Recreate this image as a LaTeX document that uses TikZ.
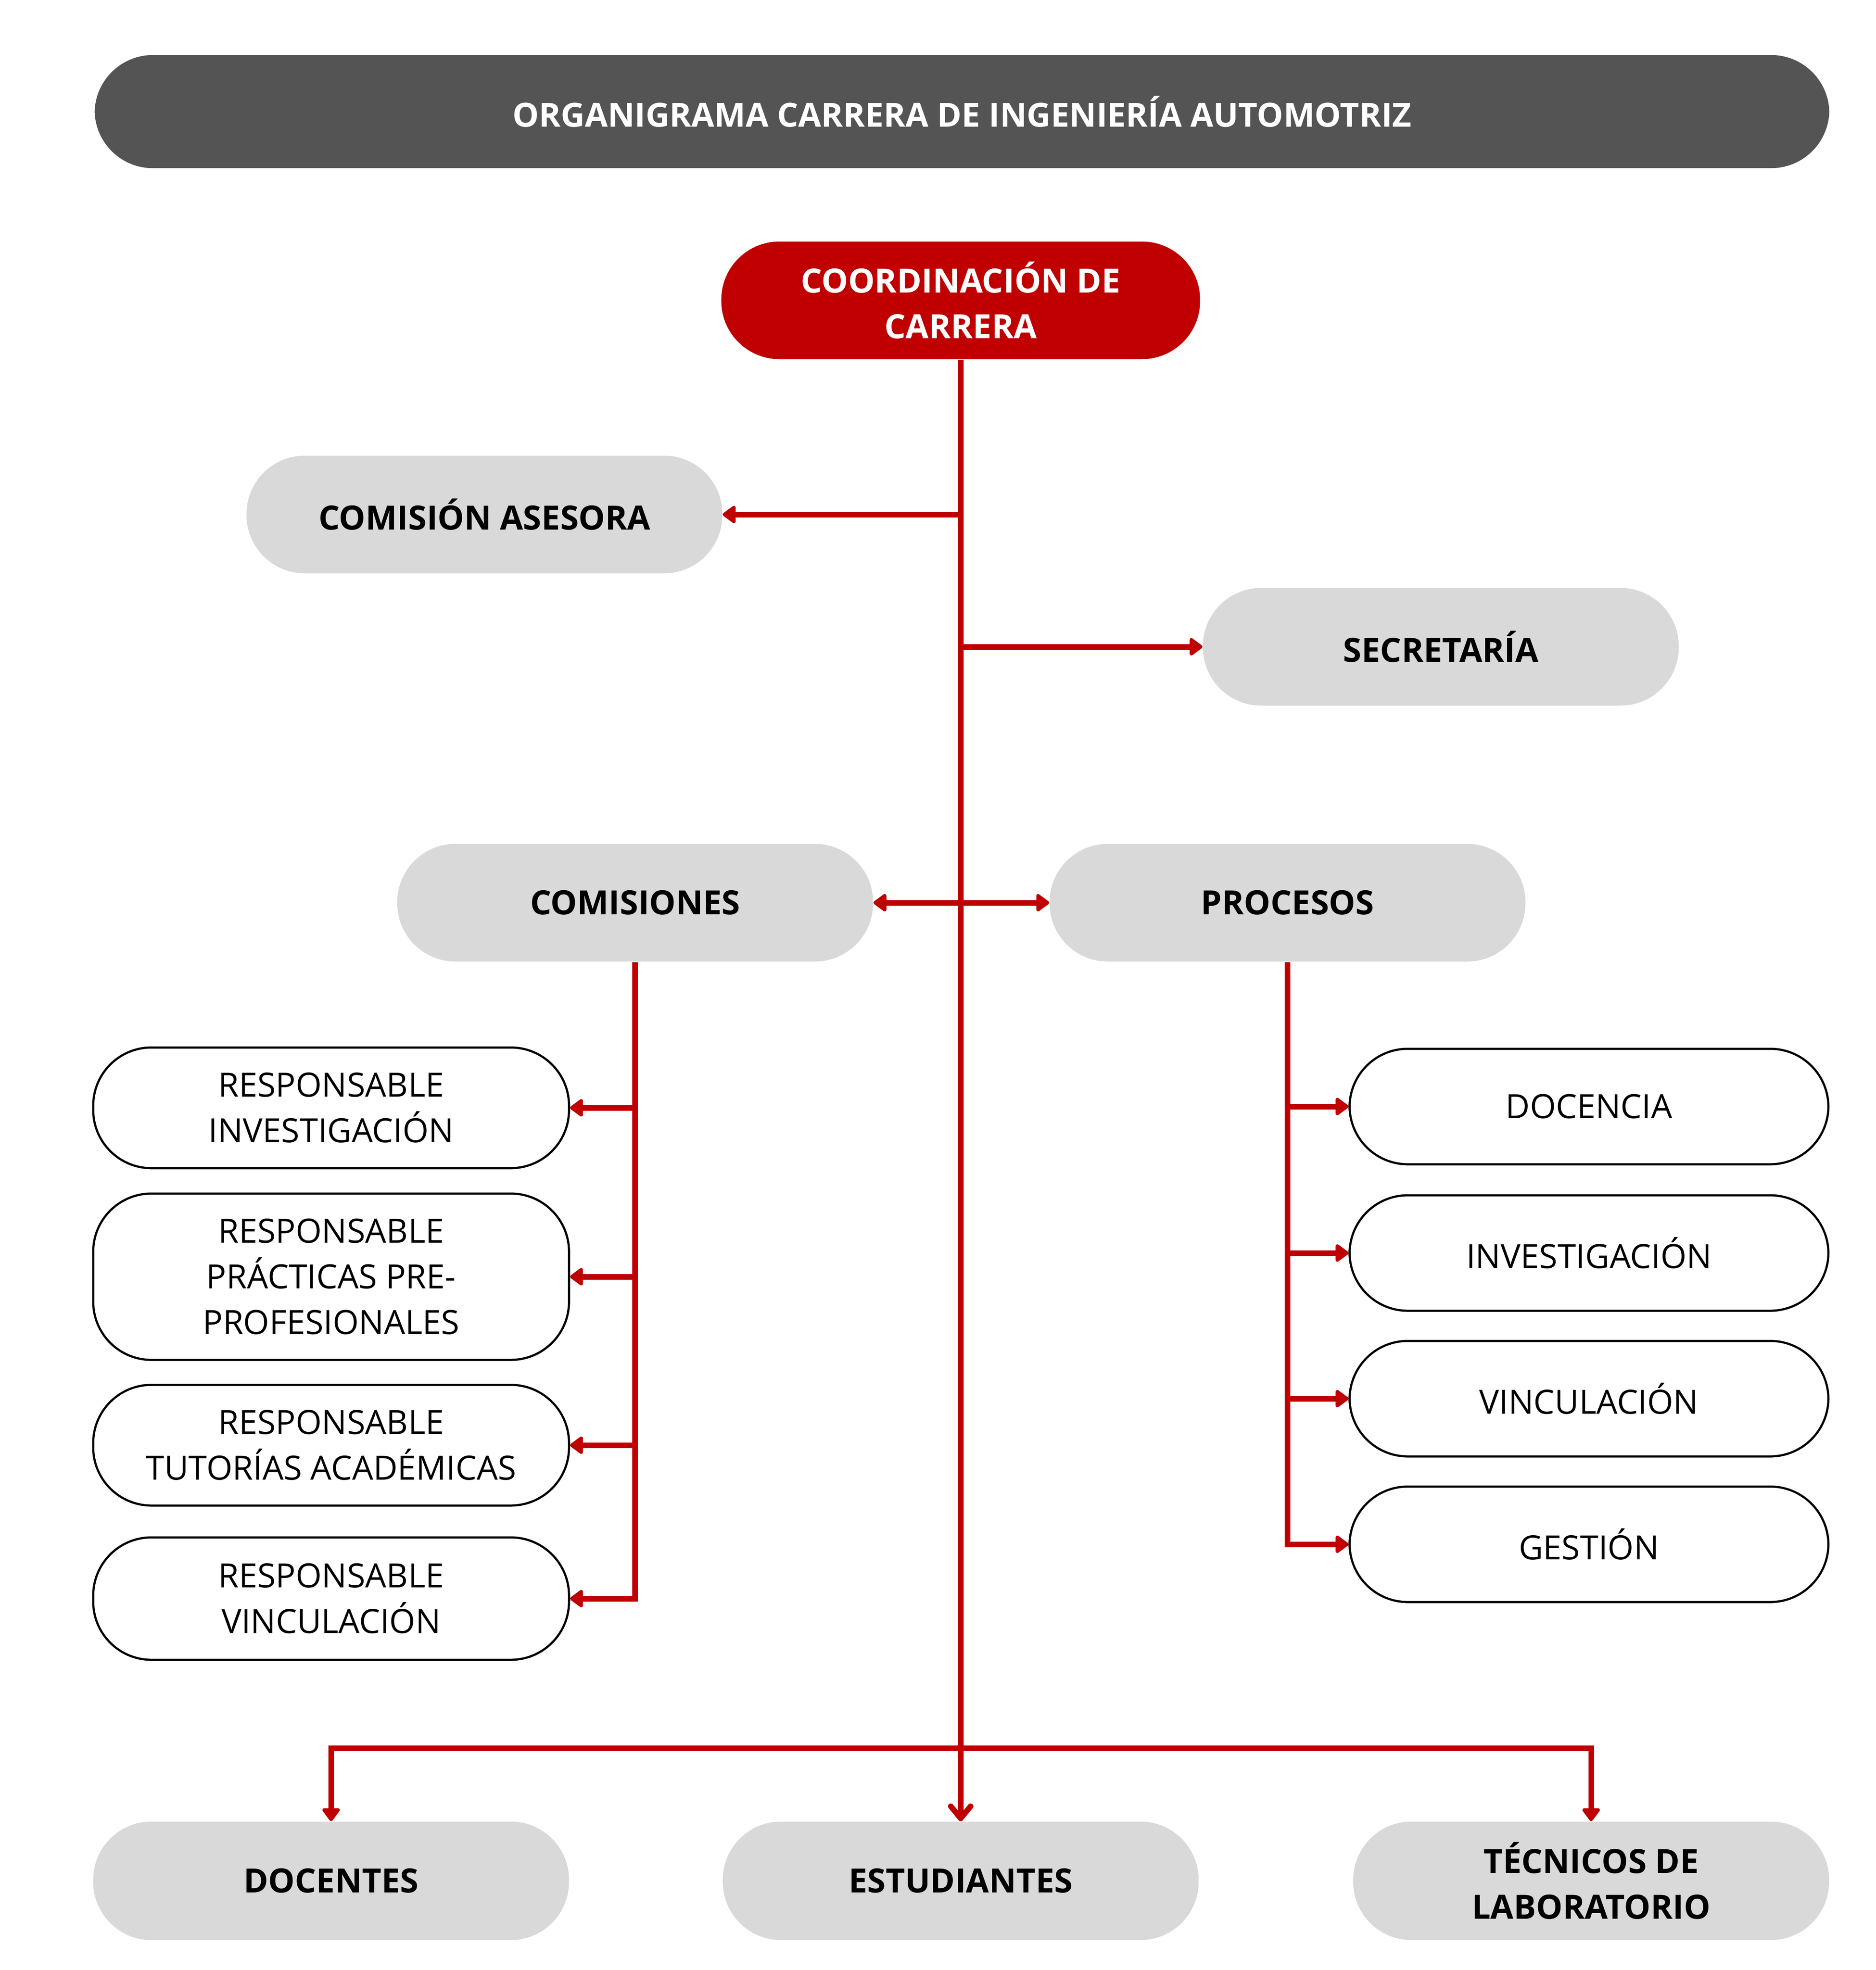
\documentclass[tikz,border=0pt]{standalone}
\usepackage{fontspec}
\setmainfont{Open Sans}
\usetikzlibrary{arrows.meta}
\definecolor{ured}{HTML}{C00000}
\definecolor{boxgray}{HTML}{D9D9D9}
\definecolor{titlegray}{HTML}{545454}
\begin{document}
\begin{tikzpicture}[x=0.1993pt,y=-0.2pt,
  pill/.style={rounded corners=27pt, minimum width=220.8pt, minimum height=54.6pt,
    inner sep=0pt, align=center, font=\fontsize{15.5}{21.2}\selectfont},
  graybox/.style={pill, fill=boxgray, font=\fontsize{15.5}{21.2}\selectfont\bfseries},
  outbox/.style={pill, draw=black, line width=1pt, fill=white},
  conn/.style={draw=ured, line width=2.6pt},
  tri/.tip={Triangle[length=6.6pt,width=9.2pt,round]},
  arr/.style={conn, -tri},
  barb/.style={conn, -{Straight Barb[length=5.6pt,width=9.2pt,round]}}
]
\useasboundingbox (0,0) rectangle (4368,4572);

% title
\node[pill, fill=titlegray, text=white, minimum width=805pt, minimum height=52.5pt,
  font=\fontsize{15.4}{20}\selectfont\bfseries] (title) at (2240,259)
  {ORGANIGRAMA CARRERA DE INGENIERÍA AUTOMOTRIZ};

% main nodes
\node[pill, fill=ured, text=white, minimum width=222.2pt, font=\fontsize{15.5}{21.2}\selectfont\bfseries]
  (coord) at (2237,697) {COORDINACIÓN DE\\CARRERA};
\node[graybox] (ase) at (1128,1194) {COMISIÓN ASESORA};
\node[graybox] (sec) at (3355,1501) {SECRETARÍA};
\node[graybox] (com) at (1479,2095) {COMISIONES};
\node[graybox] (pro) at (2998,2095) {PROCESOS};

% left column
\node[outbox, minimum height=56pt] (r1) at (771,2571) {RESPONSABLE\\INVESTIGACIÓN};
\node[outbox, minimum height=77.2pt] (r2) at (771,2963) {RESPONSABLE\\PRÁCTICAS PRE-\\PROFESIONALES};
\node[outbox, minimum height=56pt] (r3) at (771,3354) {RESPONSABLE\\TUTORÍAS ACADÉMICAS};
\node[outbox, minimum height=56.8pt] (r4) at (771,3710) {RESPONSABLE\\VINCULACIÓN};

% right column
\node[outbox, minimum width=222.2pt, minimum height=53.6pt] (p1) at (3700,2568) {DOCENCIA};
\node[outbox, minimum width=222.2pt, minimum height=53.6pt] (p2) at (3700,2908) {INVESTIGACIÓN};
\node[outbox, minimum width=222.2pt, minimum height=53.6pt] (p3) at (3700,3246) {VINCULACIÓN};
\node[outbox, minimum width=222.2pt, minimum height=53.6pt] (p4) at (3700,3584) {GESTIÓN};

% bottom row
\node[graybox, minimum height=55pt] (doc) at (771,4365) {DOCENTES};
\node[graybox, minimum height=55pt] (est) at (2237,4365) {ESTUDIANTES};
\node[graybox, minimum height=55pt] (tec) at (3705,4365) {TÉCNICOS DE\\LABORATORIO};

\coordinate (hb) at (0,4057);

% connectors
\draw[barb] (coord.south) -- (est.north);
\draw[arr] (coord.south |- ase.east) -- (ase.east);
\draw[arr] (coord.south |- sec.west) -- (sec.west);
\draw[conn, tri-tri] (com.east) -- (pro.west);

\draw[arr] (com.south) |- (r4.east);
\draw[arr] (com.south |- r1.east) -- (r1.east);
\draw[arr] (com.south |- r2.east) -- (r2.east);
\draw[arr] (com.south |- r3.east) -- (r3.east);

\draw[arr] (pro.south) |- (p4.west);
\draw[arr] (pro.south |- p1.west) -- (p1.west);
\draw[arr] (pro.south |- p2.west) -- (p2.west);
\draw[arr] (pro.south |- p3.west) -- (p3.west);

\draw[arr] (hb -| est.north) -| (doc.north);
\draw[arr] (hb -| est.north) -| (tec.north);
\end{tikzpicture}
\end{document}
